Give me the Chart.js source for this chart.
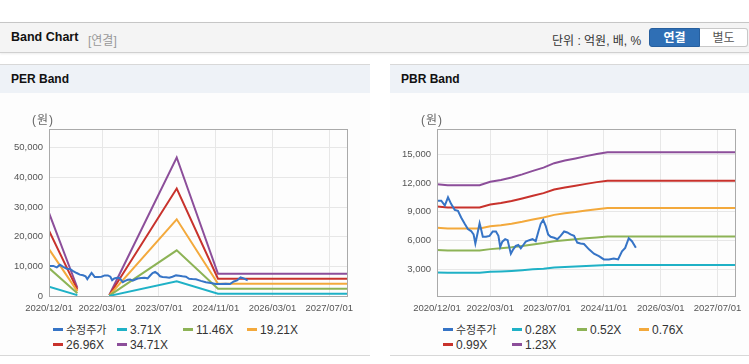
<!DOCTYPE html>
<html lang="ko">
<head>
<meta charset="utf-8">
<script src="https://cdn.jsdelivr.net/npm/chart.js@4.4.1/dist/chart.umd.min.js"></script>
<style>
body { margin:0; width:749px; height:364px; background:#fff; position:relative; overflow:hidden;
  font-family:"Liberation Sans", Arial, "Noto Sans CJK KR", sans-serif; color:#333; }
.topbar { position:absolute; left:0; top:22px; width:749px; height:29px; background:#f4f4f4;
  border-top:1px solid #c6c6c6; border-bottom:1px solid #d0d0d0; box-shadow:0 1px 2px rgba(0,0,0,0.08); }
.topbar .ttl { position:absolute; left:11px; top:7px; font-weight:bold; font-size:12.5px; color:#111; }
.topbar .sub { position:absolute; left:88px; top:8px; font-size:12px; color:#999; }
.topbar .unit { position:absolute; left:552px; top:8px; font-size:12px; color:#333; }
.btn { position:absolute; top:5px; height:19px; line-height:19px; font-size:12px; text-align:center; box-sizing:border-box; }
.btn.on { left:649px; width:51px; background:#2f6fb5; color:#fff; font-weight:bold; border-radius:3px 0 0 3px; border:1px solid #275f9e; }
.btn.off { left:700px; width:48px; background:#fff; color:#555; border:1px solid #c8c8c8; border-left:none; border-radius:0 3px 3px 0; }
.panel { position:absolute; top:64px; height:290px; background:#fdfdfd; border-top:1px solid #d8d8d8; border-bottom:1px solid #d8d8d8; }
.panel .hd { height:28px; background:#eef2f7; font-weight:bold; font-size:12px; color:#111; line-height:29px; padding-left:11px; }
canvas { position:absolute; top:31px; }
.unitlbl { position:absolute; top:45px; font-size:12px; color:#666; z-index:2; letter-spacing:1px; }
.legend { position:absolute; top:258px; display:grid; row-gap:1px; font-size:12px; color:#333; }
.legend div { height:14px; line-height:14px; white-space:nowrap; }
.legend i { display:inline-block; width:10px; height:3px; margin-right:3px; vertical-align:middle; position:relative; top:-1px; }
.legend b { font-weight:normal; font-size:11px; }
</style>
</head>
<body>
<div class="topbar">
  <span class="ttl">Band Chart</span><span class="sub">[연결]</span>
  <span class="unit">단위 : 억원, 배, %</span>
  <div class="btn on">연결</div><div class="btn off">별도</div>
</div>

<div class="panel" style="left:0;width:370px;">
  <div class="hd">PER Band</div>
  <canvas id="perChart" width="370" height="225" style="left:0;"></canvas>
  <span class="unitlbl" style="left:32px;">(원)</span>
  <div class="legend" id="perLegend" style="left:53px;grid-template-columns:64px 66px 64px 64px;"></div>
</div>

<div class="panel" style="left:390px;width:359px;">
  <div class="hd">PBR Band</div>
  <canvas id="pbrChart" width="359" height="225" style="left:0;"></canvas>
  <span class="unitlbl" style="left:31px;">(원)</span>
  <div class="legend" id="pbrLegend" style="left:53px;grid-template-columns:69px 65px 62px 62px;"></div>
</div>

<script>
// x축 눈금
const xTickLabels = ['2020/12/01', '2022/03/01', '2023/07/01', '2024/11/01', '2026/03/01', '2027/07/01'];
const xEnd = '2027/12/01';

// 수정주가
const priceDates = ['2020/12/01', '2021/01/07', '2021/02/07', '2021/03/04', '2021/04/01', '2021/05/01', '2021/05/28',
  '2021/06/25', '2021/07/25', '2021/08/22', '2021/09/19', '2021/10/10', '2021/10/25', '2021/11/15', '2021/12/01',
  '2021/12/13', '2021/12/28', '2022/01/25', '2022/02/25', '2022/03/22', '2022/04/19', '2022/05/10', '2022/05/25',
  '2022/06/13', '2022/07/07', '2022/07/28', '2022/08/13', '2022/08/25', '2022/09/15', '2022/10/07', '2022/10/28',
  '2022/11/19', '2022/12/10', '2023/01/01', '2023/02/01', '2023/02/28', '2023/03/25', '2023/04/19', '2023/05/07',
  '2023/05/28', '2023/06/19', '2023/07/10', '2023/08/01', '2023/09/01', '2023/09/28', '2023/10/25', '2023/11/25',
  '2023/12/22', '2024/01/19', '2024/02/19', '2024/03/16', '2024/04/13', '2024/05/13', '2024/06/25', '2024/08/07',
  '2024/09/19', '2024/11/01', '2024/12/13', '2025/01/25', '2025/03/01', '2025/04/04', '2025/05/01', '2025/06/01',
  '2025/06/28', '2025/08/01'];
const priceValues = [10150, 10150, 9650, 10500, 9800, 9200, 9100,
  8400, 7750, 7200, 7000, 6650, 5700, 6850, 7800,
  7200, 6400, 6400, 6500, 6950, 6950, 6500, 5350,
  5900, 6150, 6050, 5250, 4650, 5100, 5450, 5550,
  5200, 5550, 5900, 6050, 6150, 5950, 7000, 7750,
  8150, 7550, 6650, 6400, 6300, 6150, 6500, 6950,
  6850, 6650, 6500, 5800, 5700, 5650, 5100, 4650,
  4400, 4050, 4050, 4150, 4050, 4900, 5250, 6250,
  5950, 5250];

// PER 밴드 (null = 적자 구간)
const perDates = ['2020/12/01', '2021/08/01', '2021/12/01', '2022/05/01', '2023/12/01', '2024/11/20', '2027/12/01'];
const per371 = [3100, 300, null, 40, 4990, 800, 800];
const per1146 = [9400, 920, null, 115, 15400, 2480, 2480];
const per1921 = [15800, 1540, null, 190, 25850, 4150, 4150];
const per2696 = [22000, 2160, null, 270, 36250, 5820, 5820];
const per3471 = [28000, 2780, null, 350, 46700, 7500, 7500];

// PBR 밴드
const pbrDates = ['2020/12/01', '2021/03/01', '2021/12/01', '2022/03/01', '2022/06/01', '2022/09/01', '2022/12/01',
  '2023/03/01', '2023/06/01', '2023/09/01', '2023/12/01', '2024/03/01', '2024/06/01', '2024/09/01', '2024/12/01', '2027/12/01'];
const pbr028 = [2700, 2670, 2670, 2760, 2800, 2860, 2930, 3020, 3090, 3200, 3260, 3310, 3370, 3420, 3460, 3460];
const pbr052 = [5020, 4970, 4970, 5120, 5210, 5310, 5450, 5600, 5750, 5940, 6050, 6150, 6250, 6340, 6420, 6420];
const pbr076 = [7330, 7260, 7260, 7490, 7610, 7760, 7960, 8190, 8400, 8680, 8850, 8980, 9140, 9270, 9380, 9380];
const pbr099 = [9550, 9450, 9450, 9750, 9910, 10110, 10380, 10660, 10940, 11310, 11520, 11700, 11900, 12080, 12220, 12220];
const pbr123 = [11870, 11750, 11750, 12120, 12310, 12560, 12890, 13250, 13590, 14050, 14320, 14540, 14780, 15010, 15180, 15180];

const perTicks = [0, 10000, 20000, 30000, 40000, 50000];
const pbrTicks = [3000, 6000, 9000, 12000, 15000];

const colors = ['#3674c6', '#1fb1c6', '#8db356', '#f3a93c', '#c8322c', '#8c4e9a'];

// 날짜 -> 2020/12 기준 개월 수
function toMonth(s) {
  const p = s.split('/').map(Number);
  return (p[0] - 2020) * 12 + (p[1] - 12) + (p[2] - 1) / 30;
}

function pts(dates, vals) {
  return dates.map((d, i) => ({ x: toMonth(d), y: vals[i] }));
}

function line(label, dates, vals, color) {
  return {
    label: label, data: pts(dates, vals),
    borderColor: color, backgroundColor: color,
    borderWidth: 2, pointRadius: 0, tension: 0, spanGaps: false
  };
}

const frame = {
  id: 'frame',
  afterDraw(chart) {
    const a = chart.chartArea, c = chart.ctx;
    c.save();
    c.strokeStyle = '#aaaaaa';
    c.lineWidth = 1;
    c.strokeRect(Math.round(a.left) + 0.5, Math.round(a.top) + 0.5, Math.round(a.right - a.left), Math.round(a.bottom - a.top));
    c.restore();
  }
};

const tickFont = { family: "'Liberation Sans', Arial", size: 9.5 };

function makeChart(id, datasets, yMin, yMax, yTicks, yWidth, padRight) {
  return new Chart(document.getElementById(id), {
    type: 'line',
    data: { datasets: datasets },
    plugins: [frame],
    options: {
      responsive: false,
      animation: false,
      layout: { padding: { top: 33, right: padRight, left: 0, bottom: 0 } },
      plugins: { legend: { display: false }, tooltip: { enabled: false } },
      scales: {
        x: {
          type: 'linear', min: 0, max: toMonth(xEnd),
          grid: { color: '#e7e7e7', drawTicks: false },
          border: { color: '#aaaaaa' },
          afterBuildTicks: s => { s.ticks = xTickLabels.map(t => ({ value: toMonth(t) })); },
          afterFit: s => { s.height = 25; },
          ticks: {
            autoSkip: false, maxRotation: 0, padding: 7, color: '#555', font: tickFont,
            callback: (v, i) => xTickLabels[i]
          }
        },
        y: {
          min: yMin, max: yMax,
          grid: { color: '#e7e7e7', drawTicks: false },
          border: { color: '#aaaaaa' },
          afterBuildTicks: s => { s.ticks = yTicks.map(v => ({ value: v })); },
          afterFit: s => { s.width = yWidth; },
          ticks: { padding: 6, color: '#555', font: tickFont, callback: v => v.toLocaleString('en-US') }
        }
      }
    }
  });
}

function makeLegend(id, chart) {
  const box = document.getElementById(id);
  chart.data.datasets.forEach(ds => {
    const d = document.createElement('div');
    const m = document.createElement('i');
    m.style.background = ds.borderColor;
    d.appendChild(m);
    if (/[가-힣]/.test(ds.label)) {
      const b = document.createElement('b');
      b.textContent = ds.label;
      d.appendChild(b);
    } else {
      d.appendChild(document.createTextNode(ds.label));
    }
    box.appendChild(d);
  });
}

const perChart = makeChart('perChart', [
  line('수정주가', priceDates, priceValues, colors[0]),
  line('3.71X', perDates, per371, colors[1]),
  line('11.46X', perDates, per1146, colors[2]),
  line('19.21X', perDates, per1921, colors[3]),
  line('26.96X', perDates, per2696, colors[4]),
  line('34.71X', perDates, per3471, colors[5])
], 0, 56300, perTicks, 49, 23);

const pbrChart = makeChart('pbrChart', [
  line('수정주가', priceDates, priceValues, colors[0]),
  line('0.28X', pbrDates, pbr028, colors[1]),
  line('0.52X', pbrDates, pbr052, colors[2]),
  line('0.76X', pbrDates, pbr076, colors[3]),
  line('0.99X', pbrDates, pbr099, colors[4]),
  line('1.23X', pbrDates, pbr123, colors[5])
], 250, 17600, pbrTicks, 47, 12);

makeLegend('perLegend', perChart);
makeLegend('pbrLegend', pbrChart);
</script>
</body>
</html>
